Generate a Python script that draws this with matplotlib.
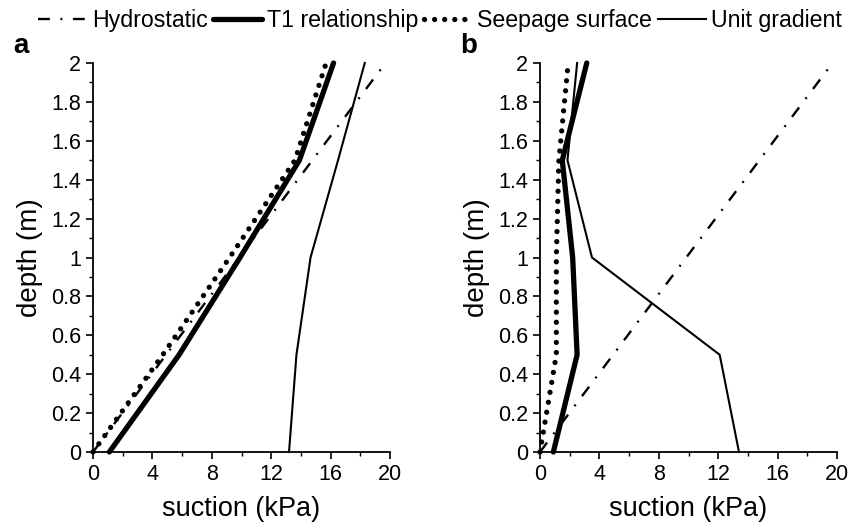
import matplotlib
matplotlib.use("Agg")
import matplotlib.pyplot as plt
from matplotlib.ticker import MultipleLocator, FormatStrFormatter
from matplotlib.lines import Line2D

plt.rcParams['font.family'] = ['Liberation Sans', 'DejaVu Sans']

# depth points (m)
depth = [0, 0.5, 1.0, 1.5, 2.0]
hydro_depth = [0, 1.98]
hydro_suction = [0, 19.5]

# panel a suction (kPa)
t1_a = [1.1, 5.8, 9.9, 13.9, 16.2]
seep_a = [0, 4.7, 9.2, 13.6, 15.7]
unit_a = [13.2, 13.7, 14.65, 16.5, 18.3]

# panel b suction (kPa)
t1_b = [0.9, 2.5, 2.2, 1.5, 3.15]
seep_b = [0, 1.1, 1.1, 1.27, 1.9]
unit_b = [13.4, 12.1, 3.5, 1.85, 2.5]

labels = ["Hydrostatic", "T1 relationship", "Seepage surface", "Unit gradient"]

W, H = 848, 528
fig = plt.figure(figsize=(W / 100, H / 100), dpi=100)

hydro_style = dict(color="black", lw=1.7, linestyle=(0, (5, 4.5, 0.8, 4.5)))
t1_style = dict(color="black", lw=3.8, solid_capstyle="round")
seep_style = dict(color="black", lw=3.8, linestyle=(0, (0.01, 1.9)), dash_capstyle="round")
unit_style = dict(color="black", lw=1.5)

def panel(left_px, t1, seep, unit, tag):
    ax = fig.add_axes([left_px / W, (H - 452) / H, 297 / W, 389 / H])
    ax.plot(hydro_suction, hydro_depth, **hydro_style, clip_on=False)
    ax.plot(t1, depth, **t1_style, clip_on=False)
    ax.plot(seep, depth, **seep_style, clip_on=False)
    ax.plot(unit, depth, **unit_style, clip_on=False)
    ax.set_xlim(0, 20)
    ax.set_ylim(0, 2)
    for s in ["top", "right"]:
        ax.spines[s].set_visible(False)
    for s in ["left", "bottom"]:
        ax.spines[s].set_linewidth(1.3)
    ax.xaxis.set_major_locator(MultipleLocator(4))
    ax.xaxis.set_minor_locator(MultipleLocator(2))
    ax.yaxis.set_major_locator(MultipleLocator(0.2))
    ax.yaxis.set_minor_locator(MultipleLocator(0.1))
    ax.yaxis.set_major_formatter(FormatStrFormatter("%g"))
    ax.tick_params(which="major", direction="out", length=5, width=1.2, labelsize=15.5)
    ax.tick_params(which="minor", direction="out", length=3, width=1.0)
    ax.set_xlabel("suction (kPa)", fontsize=19.5, labelpad=8)
    ax.set_ylabel("depth (m)", fontsize=20, labelpad=6)
    fig.text((left_px - 80) / W, 1 - 46 / H, tag, fontsize=20, fontweight="bold",
             ha="left", va="center")
    return ax

panel(93, t1_a, seep_a, unit_a, "a")
panel(540, t1_b, seep_b, unit_b, "b")

handles = [Line2D([], [], **hydro_style), Line2D([], [], **t1_style),
           Line2D([], [], **seep_style), Line2D([], [], **unit_style)]
fig.legend(handles, labels, loc="center", bbox_to_anchor=(0.519, 1 - 21 / H), ncol=4,
           frameon=False, fontsize=16.7, handlelength=2.1, handletextpad=0.2,
           columnspacing=0.25, borderpad=0)

fig.savefig("out.png", dpi=100)
